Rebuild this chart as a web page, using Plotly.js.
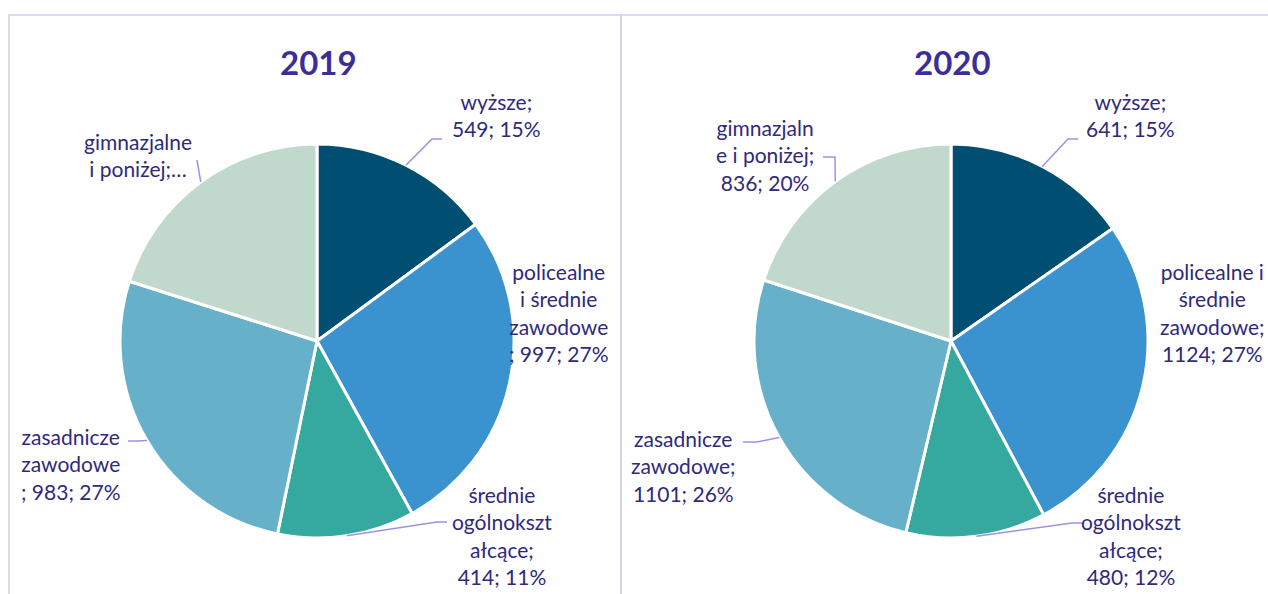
<!DOCTYPE html>
<html><head><meta charset="utf-8">
<script src="https://cdn.plot.ly/plotly-3.0.1.min.js"></script>
<style>html,body{margin:0;padding:0;background:#fff}</style>
</head><body><div id="chart" style="width:1268px;height:594px"></div>
<script>
// ---- data ----
const categories = ["wyższe", "policealne i średnie zawodowe", "średnie ogólnokształcące", "zasadnicze zawodowe", "gimnazjalne i poniżej"];
const years = ["2019", "2020"];
const values2019 = [549, 997, 414, 983, 740];
const values2020 = [641, 1124, 480, 1101, 836];
const pct2019 = [15, 27, 11, 27, 20];
const pct2020 = [15, 27, 12, 26, 20];
// wrapped label name parts as shown in the picture (no value part = truncated label)
const namePart2019 = ["wyższe;<br>", "policealne<br>i średnie<br>zawodowe<br>; ", "średnie<br>ogólnokszt<br>ałcące;<br>", "zasadnicze<br>zawodowe<br>; ", "gimnazjalne<br>i poniżej;…"];
const showValue2019 = [true, true, true, true, false];
const namePart2020 = ["wyższe;<br>", "policealne i<br>średnie<br>zawodowe;<br>", "średnie<br>ogólnokszt<br>ałcące;<br>", "zasadnicze<br>zawodowe;<br>", "gimnazjaln<br>e i poniżej;<br>"];
const showValue2020 = [true, true, true, true, true];
const colors = ["#004E71", "#3A92CF", "#35A9A0", "#66B1C9", "#C1D9CD"];

// ---- layout helpers (pixels) ----
const W = 1268, H = 594, R = 197;
const centers = [[317, 341], [951, 341]];
const labelPos = [
  [[496, 115], [558, 312], [502, 535], [70, 464], [138, 155]],
  [[1130, 115], [1212, 312], [1131, 535], [683, 466], [765, 155]]
];
// leader-line bend points (from slice edge, via these points); null = no line
const leaders = [
  [[[432, 139], [442, 139]], null, [[437, 522], [447, 522]], [[137, 441], [128, 441]], [[197, 160]]],
  [[[1068, 139], [1078, 139]], null, [[1072, 523], [1082, 523]], [[757, 442], [743, 442]], [[835, 157], [823, 157]]]
];
const px = x => x / W, py = y => 1 - y / H;

const valuesAll = [values2019, values2020];
const pctAll = [pct2019, pct2020];
const nameAll = [namePart2019, namePart2020];
const showAll = [showValue2019, showValue2020];

const textColor = "#2F2A7C";
const titleColor = "#3A2F9A";
const lineColor = "#9D92E2";
const font = "Lato, 'Open Sans', sans-serif";

const traces = [], annotations = [], shapes = [];

valuesAll.forEach((vals, k) => {
  const [cx, cy] = centers[k];
  traces.push({
    type: "pie",
    labels: categories,
    values: vals,
    sort: false,
    direction: "clockwise",
    rotation: 0,
    textinfo: "none",
    hoverinfo: "label+value+percent",
    marker: {colors: colors, line: {color: "#ffffff", width: 3}},
    domain: {x: [px(cx - R), px(cx + R)], y: [py(cy + R), py(cy - R)]},
    showlegend: false
  });
  annotations.push({
    text: "<b>" + years[k] + "</b>", x: px(cx + 1), y: py(62), xref: "paper", yref: "paper",
    xanchor: "center", yanchor: "middle", showarrow: false,
    font: {family: font, size: 33, color: titleColor}
  });
  const total = vals.reduce((a, b) => a + b, 0);
  let cum = 0;
  vals.forEach((v, i) => {
    const mid = (cum + v / 2) / total * 2 * Math.PI;
    cum += v;
    const ex = cx + R * Math.sin(mid), ey = cy - R * Math.cos(mid);
    const txt = nameAll[k][i] + (showAll[k][i] ? (vals[i] + "; " + pctAll[k][i] + "%") : "");
    annotations.push({
      text: txt, x: px(labelPos[k][i][0]), y: py(labelPos[k][i][1]), xref: "paper", yref: "paper",
      xanchor: "center", yanchor: "middle", align: "center", showarrow: false,
      font: {family: font, size: 21, color: textColor}
    });
    const lp = leaders[k][i];
    if (lp) {
      let d = "M " + px(ex) + "," + py(ey);
      lp.forEach(p => { d += " L " + px(p[0]) + "," + py(p[1]); });
      shapes.push({type: "path", xref: "paper", yref: "paper", path: d, line: {color: lineColor, width: 1.5}});
    }
  });
});

// panel borders
shapes.push({type: "rect", xref: "paper", yref: "paper", x0: px(9), x1: px(621), y0: py(600), y1: py(15), line: {color: "#D2CEEC", width: 1.5}, layer: "below"});
shapes.push({type: "rect", xref: "paper", yref: "paper", x0: px(621), x1: px(1275), y0: py(600), y1: py(15), line: {color: "#D2CEEC", width: 1.5}, layer: "below"});

Plotly.newPlot("chart", traces, {
  width: W, height: H,
  margin: {l: 0, r: 0, t: 0, b: 0},
  paper_bgcolor: "#ffffff",
  annotations: annotations,
  shapes: shapes
}, {displayModeBar: false, staticPlot: true});
</script></body></html>
